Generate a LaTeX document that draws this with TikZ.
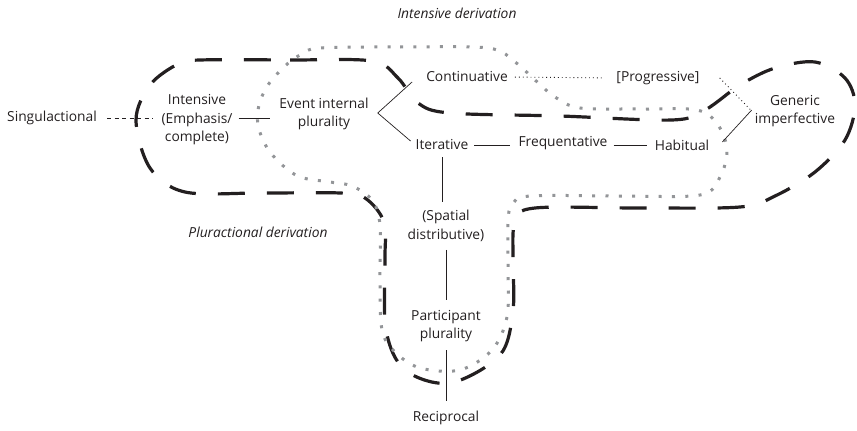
\documentclass[tikz,border=0pt]{standalone}
\usepackage{fontspec}
\setmainfont{Open Sans}
\usetikzlibrary{calc}
\definecolor{ink}{HTML}{231F20}
\definecolor{dotgray}{HTML}{939598}
\begin{document}
\begin{tikzpicture}[x=1pt,y=-1pt,
  lbl/.style={inner sep=0pt,align=center,text=ink,font=\fontsize{13.8}{18.5}\selectfont},
  title/.style={lbl,font=\fontsize{13.8}{18.5}\selectfont\itshape},
  link/.style={draw=ink,line width=0.7pt},
  dotlink/.style={draw=ink,line width=0.9pt,dash pattern=on 0.9pt off 3pt},
  dashlink/.style={draw=ink,line width=0.8pt,dash pattern=on 4pt off 3.5pt},
  bigdash/.style={draw=ink,line width=3.2pt,dash pattern=on 27pt off 22pt},
  bigdot/.style={draw=dotgray,line width=3pt,dash pattern=on 3pt off 10.3pt}]
\useasboundingbox (0,0) rectangle (857,431);

% region boundaries
\draw[bigdash] plot[smooth cycle,tension=0.55] coordinates {
  (200,60) (290,60) (372,61) (398,78) (418,103) (450,113) (560,116) (672,120)
  (705,110) (740,85) (775,68) (815,62) (845,78) (855,105) (845,140) (815,172)
  (775,196) (740,207) (640,208) (535,208) (515,222) (513,260) (513,310)
  (500,355) (450,383) (405,370) (386,330) (385,260) (384,222) (365,198)
  (340,193) (260,193) (185,192) (150,168) (136,120) (150,85) (178,64)};
\draw[bigdot] plot[smooth cycle,tension=0.55] coordinates {
  (320,48) (400,47) (488,48) (515,62) (535,80) (555,97) (580,108) (640,109)
  (697,110) (718,125) (727,150) (720,177) (700,195) (620,196) (530,196)
  (512,205) (508,222) (508,270) (507,317) (492,350) (460,370) (420,368)
  (395,352) (382,330) (380,280) (380,225) (372,200) (352,186) (330,182)
  (300,177) (280,163) (266,146) (258,125) (259,105) (268,85) (285,66) (300,55)};

% labels
\node[title] (intderiv) at (457,13) {Intensive derivation};
\node[title] (plurderiv) at (258,232) {Pluractional derivation};
\node[lbl] (sing) at (52,118) {Singulactional};
\node[lbl] (intens) at (197,120) {Intensive\\(Emphasis/\\complete)};
\node[lbl] (event) at (324,114) {Event internal\\plurality};
\node[lbl] (cont) at (467,77) {Continuative};
\node[lbl] (prog) at (658,78) {[Progressive]};
\node[lbl] (generic) at (795,111) {Generic\\imperfective};
\node[lbl] (iter) at (442,145) {Iterative};
\node[lbl] (freq) at (563,143) {Frequentative};
\node[lbl] (hab) at (682,145) {Habitual};
\node[lbl] (spatial) at (446,226) {(Spatial\\distributive)};
\node[lbl] (part) at (446,326) {Participant\\plurality};
\node[lbl] (recip) at (446,418) {Reciprocal};

% connectors
\coordinate (fork) at ($(event.east)+(9,-1)$);
\coordinate (contend) at ($(cont.west)+(-14,5)$);
\coordinate (iterend) at ($(iter.west)+(-5,-4)$);
\draw[dashlink,shorten <=10pt,shorten >=8pt] (sing.east) -- (sing.east -| intens.west);
\draw[link,shorten <=6pt,shorten >=9pt] (intens.east |- sing.east) -- (event.west |- sing.east);
\draw[link] (contend) -- (fork) -- (iterend);
\draw[dotlink,shorten <=7pt,shorten >=12pt] (cont.east) -- (prog.west);
\draw[dotlink] ($(prog.east)+(20,0)$) -- ($(generic.west)+(-4,-1)$);
\draw[link] ($(hab.east)+(13,-3)$) -- ($(generic.west)+(-3,-1)$);
\draw[link,shorten <=6pt,shorten >=8pt] (iter.east) -- (iter.east -| freq.west);
\draw[link,shorten <=6pt,shorten >=8pt] (freq.east |- hab.west) -- (hab.west);
\draw[link,shorten <=7pt,shorten >=8pt] (iter.south) -- (iter.south |- spatial.north);
\draw[link,shorten <=8pt,shorten >=10pt] (spatial.south) -- (part.north);
\draw[link,shorten <=8pt,shorten >=10pt] (part.south) -- (recip.north);
\end{tikzpicture}
\end{document}
